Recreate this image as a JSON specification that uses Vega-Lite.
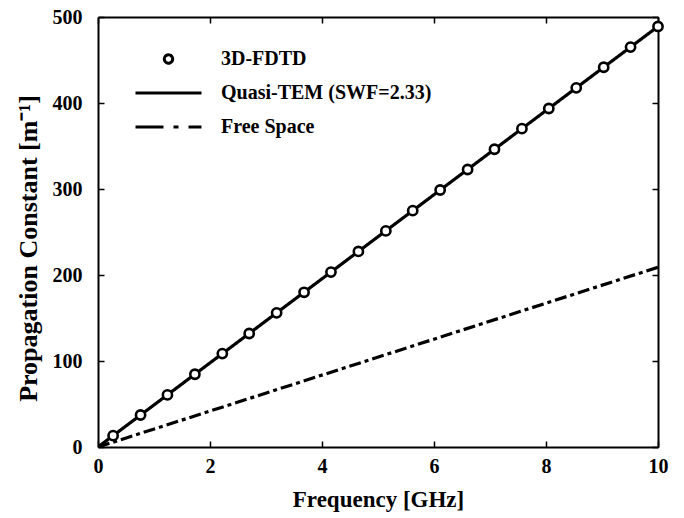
{
  "$schema": "https://vega.github.io/schema/vega-lite/v6.json",
  "width": 560,
  "height": 430,
  "autosize": {"type": "none"},
  "padding": {"left": 98, "top": 17, "right": 26, "bottom": 71},
  "background": "white",
  "config": {
    "view": {"stroke": null},
    "font": "Liberation Serif",
    "axis": {
      "domainColor": "black", "domainWidth": 2, "tickColor": "black", "tickWidth": 1.5,
      "tickSize": -6, "grid": false, "labelFlush": false,
      "labelFont": "Liberation Serif", "labelFontSize": 20, "labelFontWeight": "bold", "labelColor": "black",
      "titleFont": "Liberation Serif", "titleFontSize": 23, "titleFontWeight": "bold", "titleColor": "black"
    }
  },
  "datasets": {
    "lines": [
      {"f": 0, "beta": 0, "series": "Quasi-TEM (SWF=2.33)"},
      {"f": 10, "beta": 489, "series": "Quasi-TEM (SWF=2.33)"},
      {"f": 0, "beta": 0, "series": "Free Space"},
      {"f": 10, "beta": 209, "series": "Free Space"}
    ],
    "pts": [
      {"f": 0.27, "beta": 13.2, "series": "3D-FDTD"},
      {"f": 0.76, "beta": 37.2, "series": "3D-FDTD"},
      {"f": 1.24, "beta": 60.6, "series": "3D-FDTD"},
      {"f": 1.73, "beta": 84.6, "series": "3D-FDTD"},
      {"f": 2.22, "beta": 108.6, "series": "3D-FDTD"},
      {"f": 2.70, "beta": 132.0, "series": "3D-FDTD"},
      {"f": 3.19, "beta": 156.0, "series": "3D-FDTD"},
      {"f": 3.68, "beta": 179.9, "series": "3D-FDTD"},
      {"f": 4.16, "beta": 203.4, "series": "3D-FDTD"},
      {"f": 4.65, "beta": 227.4, "series": "3D-FDTD"},
      {"f": 5.14, "beta": 251.3, "series": "3D-FDTD"},
      {"f": 5.62, "beta": 274.8, "series": "3D-FDTD"},
      {"f": 6.11, "beta": 298.8, "series": "3D-FDTD"},
      {"f": 6.60, "beta": 322.7, "series": "3D-FDTD"},
      {"f": 7.08, "beta": 346.2, "series": "3D-FDTD"},
      {"f": 7.57, "beta": 370.2, "series": "3D-FDTD"},
      {"f": 8.05, "beta": 393.6, "series": "3D-FDTD"},
      {"f": 8.54, "beta": 417.6, "series": "3D-FDTD"},
      {"f": 9.03, "beta": 441.6, "series": "3D-FDTD"},
      {"f": 9.51, "beta": 465.0, "series": "3D-FDTD"},
      {"f": 10.0, "beta": 489.0, "series": "3D-FDTD"}
    ]
  },
  "layer": [
    {
      "data": {"name": "lines"},
      "mark": {"type": "line", "strokeWidth": 3.2, "clip": true},
      "encoding": {
        "x": {"field": "f", "type": "quantitative", "scale": {"domain": [0, 10], "nice": false},
              "axis": {"values": [0, 2, 4, 6, 8, 10], "title": "Frequency [GHz]", "labelPadding": 15, "titlePadding": 12}},
        "y": {"field": "beta", "type": "quantitative", "scale": {"domain": [0, 500], "nice": false},
              "axis": {"values": [0, 100, 200, 300, 400, 500], "title": "Propagation Constant [m⁻¹]", "labelPadding": 22,
                       "titleFontSize": 26, "titleX": -70, "titleY": 231, "titleAlign": "center", "titleBaseline": "middle", "titleAngle": -90}},
        "color": {"field": "series", "type": "nominal",
          "scale": {"domain": ["3D-FDTD", "Quasi-TEM (SWF=2.33)", "Free Space"], "range": ["black", "black", "black"]},
          "legend": {
            "title": null, "orient": "none", "legendX": 36, "legendY": 34, "padding": 0,
            "labelFont": "Liberation Serif", "labelFontSize": 20, "labelFontWeight": "bold", "labelColor": "black", "labelLimit": 0,
            "rowPadding": 14, "clipHeight": 16, "labelOffset": 18, "symbolSize": 4356, "symbolStrokeWidth": 3,
            "encode": {
              "symbols": {
                "update": {
                  "shape": {"signal": "datum.value === '3D-FDTD' ? 'circle' : 'stroke'"},
                  "size": {"signal": "datum.value === '3D-FDTD' ? 70 : 4356"},
                  "strokeDash": {"signal": "datum.value === 'Free Space' ? [28, 10, 5, 10] : [1, 0]"},
                  "stroke": {"value": "black"},
                  "fill": {"value": "white"},
                  "strokeWidth": {"value": 3}
                }
              }
            }
          }
        },
        "strokeDash": {"field": "series", "type": "nominal",
          "scale": {"domain": ["Quasi-TEM (SWF=2.33)", "Free Space"], "range": [[1, 0], [12, 4, 4, 4]]},
          "legend": null}
      }
    },
    {
      "data": {"name": "pts"},
      "mark": {"type": "point", "shape": "circle", "filled": false, "fill": "white", "fillOpacity": 1, "size": 85, "strokeWidth": 2.6, "opacity": 1},
      "encoding": {
        "x": {"field": "f", "type": "quantitative", "scale": {"domain": [0, 10], "nice": false},
              "axis": {"orient": "top", "values": [0, 2, 4, 6, 8, 10], "labels": false, "title": null}},
        "y": {"field": "beta", "type": "quantitative", "scale": {"domain": [0, 500], "nice": false},
              "axis": {"orient": "right", "values": [0, 100, 200, 300, 400, 500], "labels": false, "title": null}},
        "color": {"field": "series", "type": "nominal"}
      }
    }
  ],
  "resolve": {"axis": {"x": "independent", "y": "independent"}}
}
